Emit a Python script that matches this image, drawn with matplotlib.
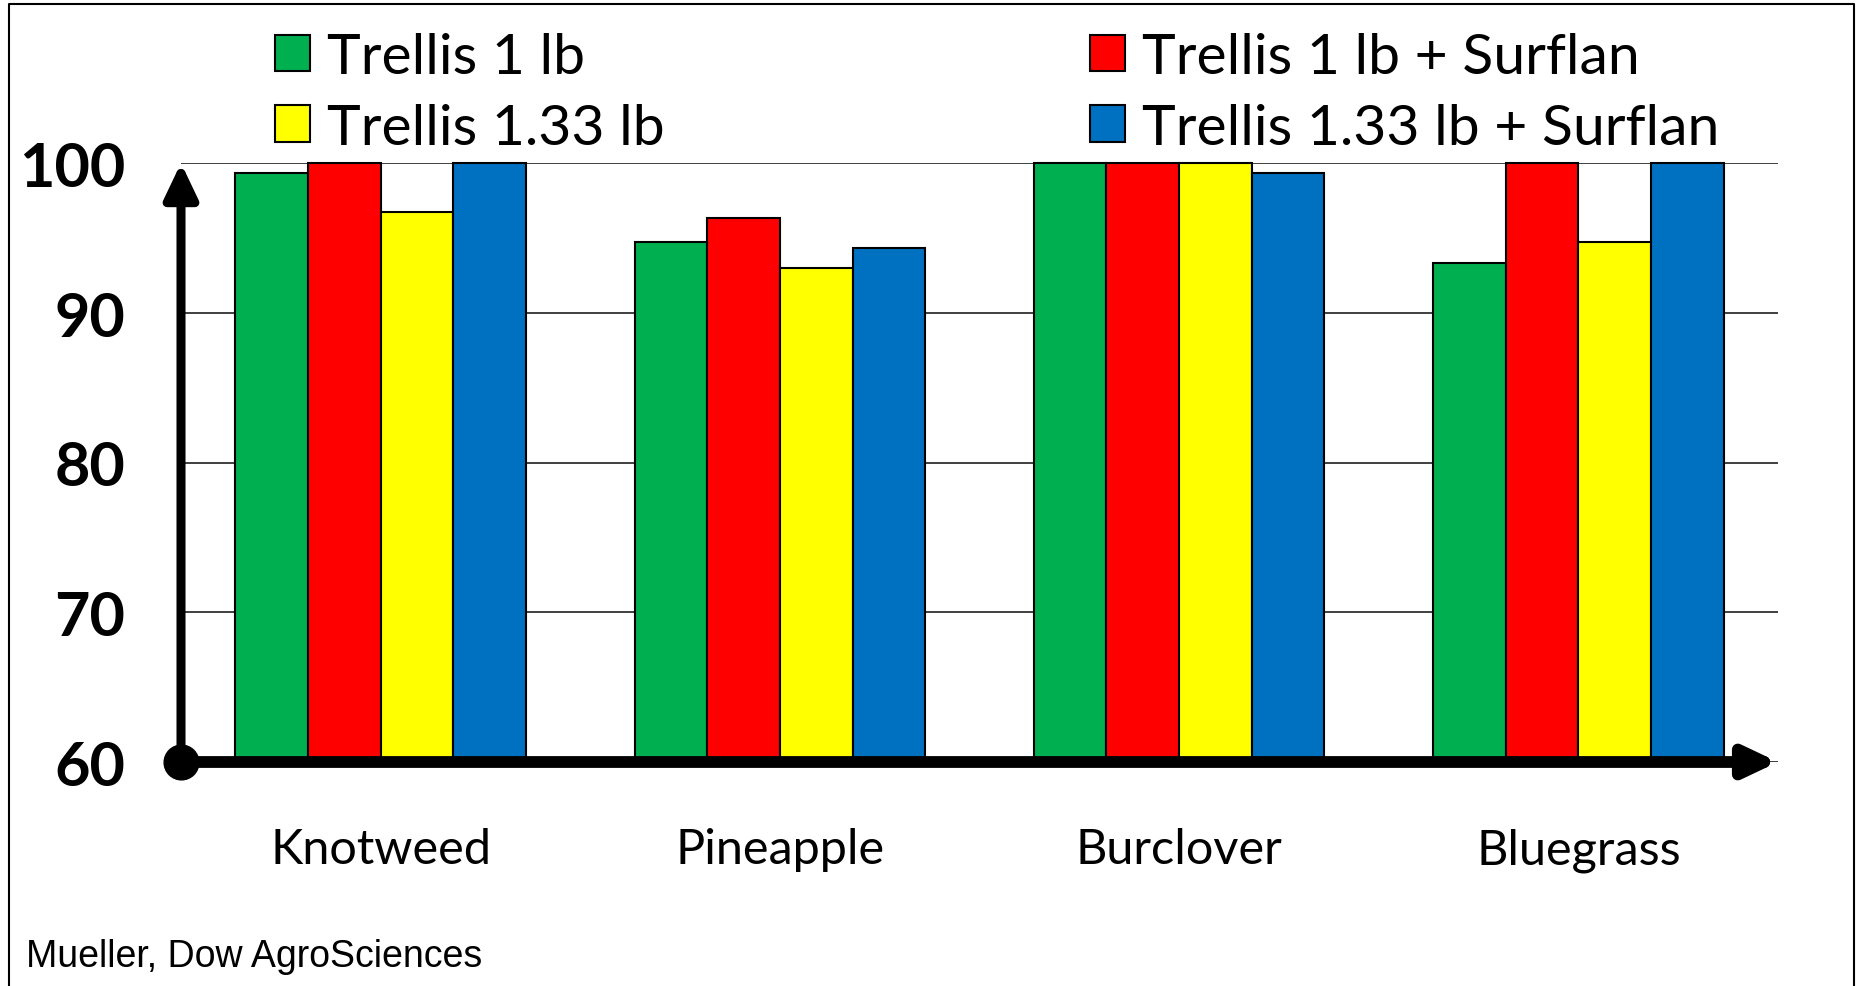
import numpy as np
import matplotlib.pyplot as plt
from matplotlib.patches import Patch
from matplotlib.lines import Line2D

# Data
categories = ['Knotweed', 'Pineapple', 'Burclover', 'Bluegrass']
series_names = ['Trellis 1 lb', 'Trellis 1 lb + Surflan',
                'Trellis 1.33 lb', 'Trellis 1.33 lb + Surflan']
trellis_1 = [99.3, 94.7, 100, 93.3]
trellis_1_surflan = [100, 96.3, 100, 100]
trellis_133 = [96.7, 93.0, 100, 94.7]
trellis_133_surflan = [100, 94.3, 99.3, 100]
y_ticks = [60, 70, 80, 90, 100]
y_min = 60

colors = ['#00B050', '#FF0000', '#FFFF00', '#0070C0']
series = [trellis_1, trellis_1_surflan, trellis_133, trellis_133_surflan]

fig = plt.figure(figsize=(18.58, 9.87), dpi=100)
ax = fig.add_axes([181 / 1858, 224 / 987, (1778 - 181) / 1858, (763 - 164) / 987])

x = np.arange(len(categories))
bar_w = 0.182
for i, (vals, c) in enumerate(zip(series, colors)):
    ax.bar(x + (i - 1.5) * bar_w, np.array(vals) - y_min, bar_w, bottom=y_min,
           color=c, edgecolor='black', linewidth=1.5, zorder=3, clip_on=False)

ax.set_xlim(-0.5, 3.5)
ax.set_ylim(y_min, 100)
ax.set_yticks(y_ticks)
ax.set_xticks(x)
ax.set_xticklabels(categories, fontfamily='Lato', fontsize=35)
ax.set_yticklabels([str(t) for t in y_ticks], fontfamily='Lato', fontsize=44,
                   fontweight='bold')
ax.tick_params(axis='both', length=0)
ax.tick_params(axis='y', pad=40)
ax.tick_params(axis='x', pad=47)
for s in ax.spines.values():
    s.set_visible(False)
ax.yaxis.grid(True, color='#303030', linewidth=1.3, zorder=0)
ax.set_axisbelow(True)

# axis arrows
ax.annotate('', xy=(-0.5, 100), xytext=(-0.5, y_min), annotation_clip=False,
            arrowprops=dict(arrowstyle='-|>,head_length=1.05,head_width=0.5',
                            lw=6.5, color='black', mutation_scale=20,
                            shrinkA=0, shrinkB=0), zorder=5)
ax.annotate('', xy=(3.5, y_min), xytext=(-0.5, y_min), annotation_clip=False,
            arrowprops=dict(arrowstyle='-|>,head_length=0.95,head_width=0.45',
                            lw=8.5, color='black', mutation_scale=20,
                            shrinkA=0, shrinkB=0), zorder=5)
ax.plot([-0.5], [y_min], 'o', color='black', markersize=25, clip_on=False, zorder=6)

# legend in two columns
handles = [Patch(facecolor=c, edgecolor='black', linewidth=1.5) for c in colors]
leg_kw = dict(frameon=False, handlelength=0.62, handleheight=0.62,
              handletextpad=0.3, labelspacing=0.35, borderpad=0, borderaxespad=0,
              prop={'family': 'Lato', 'size': 41})
fig.legend([handles[0], handles[2]], [series_names[0], series_names[2]],
           loc='upper left', bbox_to_anchor=(275 / 1858, 1 - 33 / 987), **leg_kw)
fig.legend([handles[1], handles[3]], [series_names[1], series_names[3]],
           loc='upper left', bbox_to_anchor=(1090 / 1858, 1 - 33 / 987), **leg_kw)

fig.text(26 / 1858, 1 - 957 / 987, 'Mueller, Dow AgroSciences',
         fontfamily='Liberation Sans', fontsize=27, va='center', ha='left')

# frame around the slide
fig.add_artist(Line2D([9 / 1858, 9 / 1858, 1854 / 1858, 1854 / 1858],
                      [0, 1 - 5 / 987, 1 - 5 / 987, 0],
                      transform=fig.transFigure, color='black', linewidth=1.5))

fig.savefig('out.png', dpi=100)
